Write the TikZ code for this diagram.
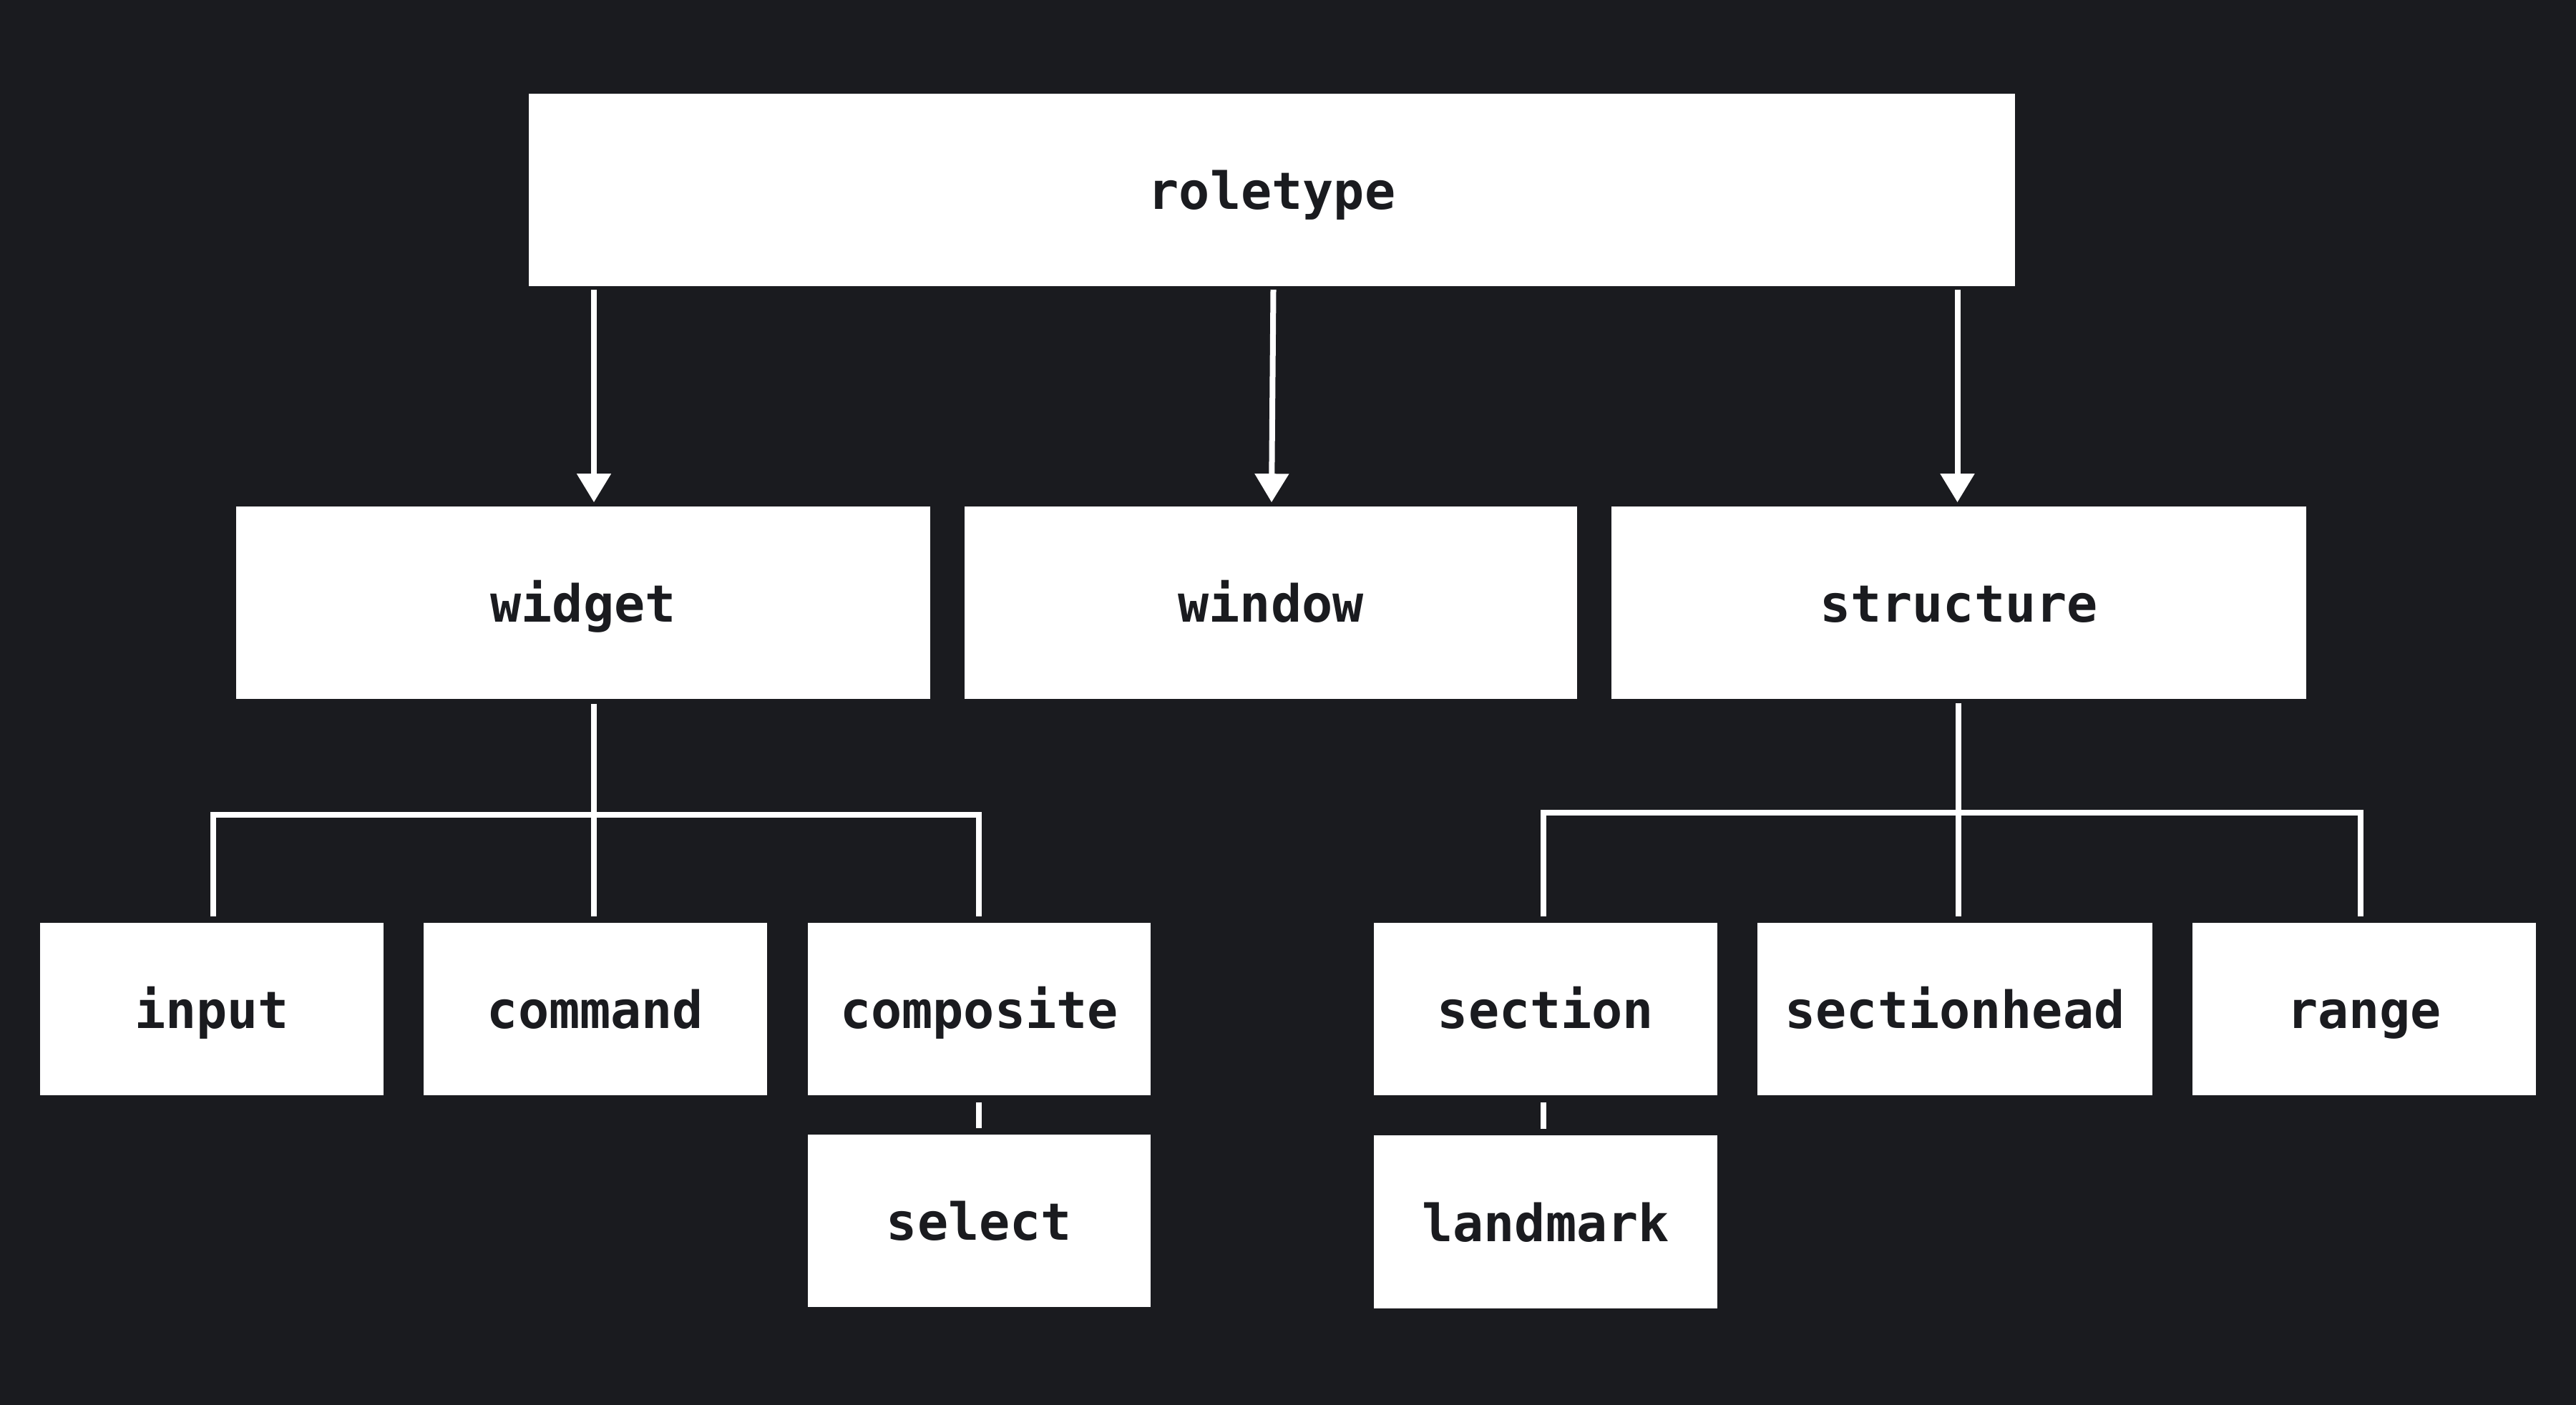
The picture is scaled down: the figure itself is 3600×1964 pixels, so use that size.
\documentclass[tikz,border=0pt]{standalone}
\usepackage{fontspec}
\setmonofont{DejaVu Sans Mono}
\usetikzlibrary{arrows.meta,calc}
\definecolor{bg}{HTML}{1A1B1F}
\begin{document}
\begin{tikzpicture}[x=0.01cm,y=-0.01cm,
  box/.style={fill=white, draw=none, inner sep=0pt,
    font=\ttfamily\bfseries\fontsize{20.4pt}{24pt}\selectfont, text=bg,
    text height=0.6cm, text depth=0.06cm},
  bigbox/.style={box, minimum height=2.69cm},
  smallbox/.style={box, minimum height=2.41cm, minimum width=4.80cm},
  link/.style={draw=white, line width=0.08cm},
  arr/.style={link, -{Triangle[width=0.46cm,length=0.40cm]}}]
\fill[bg] (0,0) rectangle (3600,1964);
\useasboundingbox (0,0) rectangle (3600,1964);

% level 1
\node[bigbox, minimum width=20.75cm] (roletype) at (1777.5,265.5) {roletype};
% level 2
\node[bigbox, minimum width=9.70cm] (widget) at (815,842.5) {widget};
\node[bigbox, minimum width=8.56cm] (window) at (1776,842.5) {window};
\node[bigbox, minimum width=9.70cm] (structure) at (2737.5,842.5) {structure};
% level 3
\node[smallbox] (input) at (296,1410.5) {input};
\node[smallbox] (command) at (832,1410.5) {command};
\node[smallbox, minimum width=4.79cm] (composite) at (1368.5,1410.5) {composite};
\node[smallbox] (section) at (2160,1410.5) {section};
\node[smallbox, minimum width=5.52cm] (sectionhead) at (2732,1410.5) {sectionhead};
\node[smallbox] (range) at (3304,1410.5) {range};
% level 4
\node[smallbox, minimum width=4.79cm] (select) at (1368.5,1706.5) {select};
\node[smallbox] (landmark) at (2160,1708) {landmark};

% arrows from roletype
\draw[arr] ($(roletype.south -| widget.north)+(15,4)$) -- ($(widget.north)+(15,-5)$);
\draw[arr] ($(roletype.south)+(2,4)$) -- ($(window.north)+(1,-5)$);
\draw[arr] ($(roletype.south -| structure.north)+(-2,4)$) -- ($(structure.north)+(-2,-5)$);

% widget tree
\coordinate (wbus) at ($(widget.south)+(15,161)$);
\draw[link] ($(widget.south)+(15,6)$) -- ($(command.north -| wbus)+(0,-8)$);
\draw[link] ($(input.north)+(2,-8)$) |- (wbus) -| ($(composite.north)+(-1,-8)$);

% structure tree
\coordinate (sbus) at ($(structure.south)+(-1,158)$);
\draw[link] ($(structure.south)+(-1,5)$) -- ($(sectionhead.north -| sbus)+(0,-8)$);
\draw[link] ($(section.north)+(-3,-8)$) |- (sbus) -| ($(range.north)+(-5,-8)$);

% short links
\draw[link] ($(composite.south)+(-1,9)$) -- ($(select.north)+(-1,-8)$);
\draw[link] ($(section.south)+(-3,9)$) -- ($(landmark.north)+(-3,-9)$);
\end{tikzpicture}
\end{document}
